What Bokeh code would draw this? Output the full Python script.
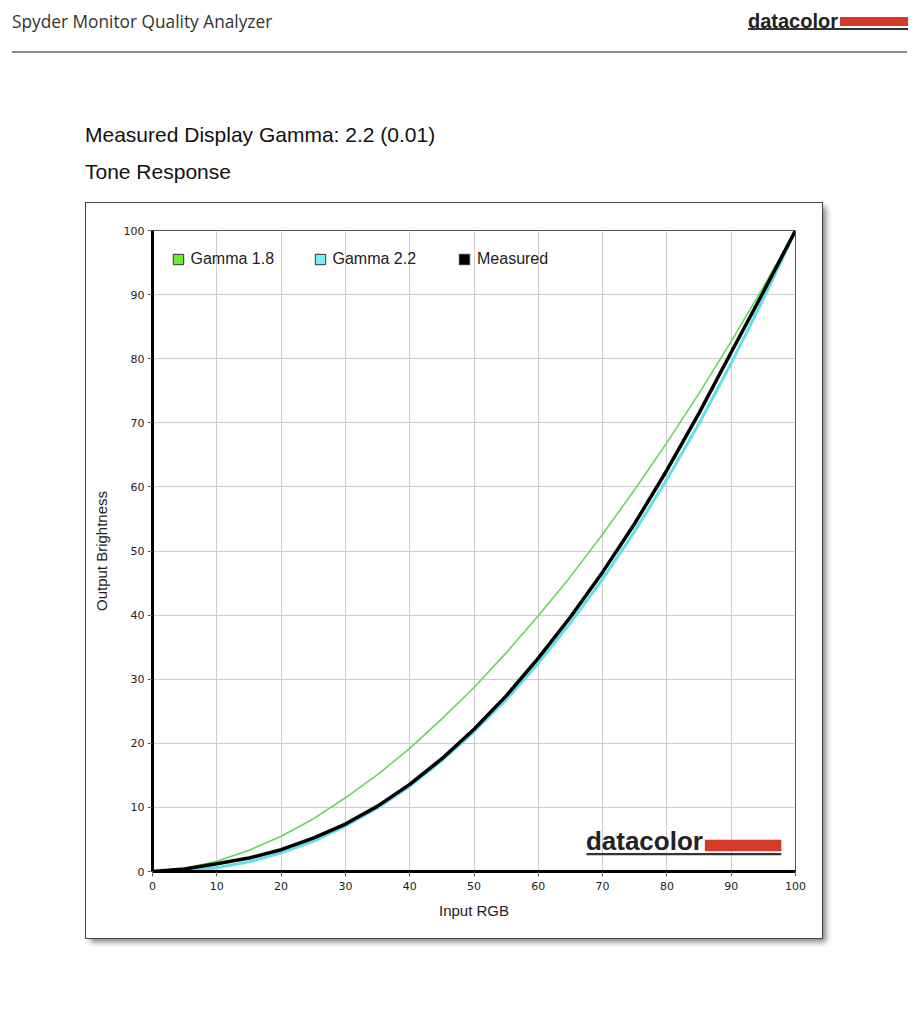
from bokeh.plotting import figure
from bokeh.models import (Div, Legend, LegendItem, Label, BoxAnnotation, ColumnDataSource,
                          Range1d, FixedTicker, Spacer)
from bokeh.layouts import column, row
from bokeh.embed import file_html
from bokeh.resources import INLINE
from bokeh.core.properties import value

# ---------------- data ----------------
input_rgb = [0, 5, 10, 15, 20, 25, 30, 35, 40, 45, 50, 55, 60, 65, 70, 75, 80, 85, 90, 95, 100]
gamma_18 = [0, 0.5, 1.6, 3.3, 5.5, 8.2, 11.5, 15.1, 19.2, 23.8, 28.7, 34.1, 39.9, 46.0, 52.6,
            59.6, 66.9, 74.6, 82.7, 91.2, 100]
gamma_22 = [0, 0.1, 0.6, 1.5, 2.9, 4.7, 7.1, 9.9, 13.3, 17.3, 21.8, 26.8, 32.5, 38.8, 45.6,
            53.1, 61.2, 69.9, 79.3, 89.3, 100]
measured = [0, 0.4, 1.2, 2.1, 3.4, 5.2, 7.4, 10.2, 13.6, 17.6, 22.2, 27.4, 33.3, 39.7, 46.7,
            54.3, 62.6, 71.5, 81.0, 90.4, 100]
ticks = [0, 10, 20, 30, 40, 50, 60, 70, 80, 90, 100]
series_names = ["Gamma 1.8", "Gamma 2.2", "Measured"]

page_title = "Spyder Monitor Quality Analyzer"
heading = "Measured Display Gamma: 2.2 (0.01)"
subheading = "Tone Response"
x_title = "Input RGB"
y_title = "Output Brightness"

# ---------------- styles ----------------
GREEN_LINE = "#66d65a"
GREEN_SWATCH = "#66ee33"
CYAN_LINE = "#5fe0ea"
CYAN_SWATCH = "#77eeee"
BLACK = "#000000"
SANS = "Liberation Sans"
TICK_FONT = "DejaVu Sans"

# ---------------- header (HTML) ----------------
header_html = f"""
<div style="position:relative;width:920px;height:203px;margin:0;padding:0;">
  <div style="position:absolute;left:12px;top:13px;font-family:'Open Sans';font-size:17.3px;line-height:1;color:#333;white-space:nowrap;">{page_title}</div>
  <div style="position:absolute;left:748px;top:11px;font-family:'Liberation Sans';font-weight:bold;font-size:20px;line-height:1;color:#222;white-space:nowrap;">datacolor</div>
  <div style="position:absolute;left:840px;top:17px;width:68px;height:9px;background:#d33a2c;"></div>
  <div style="position:absolute;left:748px;top:28px;width:160px;height:0;border-top:2px solid #333;"></div>
  <div style="position:absolute;left:12px;top:51px;width:895px;height:0;border-top:2px solid #8a8a8a;"></div>
  <div style="position:absolute;left:85px;top:124px;font-family:'Liberation Sans';font-size:21px;line-height:1;color:#111;white-space:nowrap;">{heading}</div>
  <div style="position:absolute;left:85px;top:161px;font-family:'Liberation Sans';font-size:21px;line-height:1;color:#111;white-space:nowrap;">{subheading}</div>
</div>
"""
header = Div(text=header_html, width=920, height=203, margin=(0, 0, 0, 0))

# ---------------- chart ----------------
p = figure(width=736, height=735, output_backend="svg", toolbar_location=None,
           x_range=Range1d(0, 100), y_range=Range1d(0, 100),
           min_border_left=66, min_border_right=27, min_border_top=27, min_border_bottom=67,
           background_fill_color="white", border_fill_color="white")
p.styles = {"outline": "1px solid #444", "box-shadow": "4px 4px 6px rgba(0,0,0,0.5)"}
p.outline_line_color = "#555555"
p.outline_line_width = 1

for ax in (p.xaxis[0], p.yaxis[0]):
    ax.ticker = FixedTicker(ticks=ticks)
    ax.axis_line_color = "black"
    ax.axis_line_width = 3
    ax.major_tick_line_color = "#666666"
    ax.major_tick_out = 5
    ax.major_tick_in = 0
    ax.minor_tick_line_color = None
    ax.major_label_text_font = TICK_FONT
    ax.major_label_text_font_size = "11px"
    ax.major_label_text_color = "#222222"
    ax.axis_label_text_font = SANS
    ax.axis_label_text_font_size = "15px"
    ax.axis_label_text_font_style = "normal"
    ax.axis_label_text_color = "#222222"

p.xaxis.axis_label = x_title
p.yaxis.axis_label = y_title
p.xaxis.major_label_standoff = 5
p.xaxis.axis_label_standoff = 9
p.yaxis.major_label_standoff = 3
p.yaxis.axis_label_standoff = 11

p.xgrid.ticker = FixedTicker(ticks=ticks)
p.ygrid.ticker = FixedTicker(ticks=ticks)
p.grid.grid_line_color = "#cccccc"
p.grid.grid_line_width = 1

src = ColumnDataSource(dict(x=input_rgb, g18=gamma_18, g22=gamma_22, m=measured))

# in-chart datacolor mark
p.add_layout(BoxAnnotation(left=85.9, right=97.8, bottom=3.17, top=4.95,
                           fill_color="#d33a2c", fill_alpha=1, line_color=None, level="underlay"))
p.add_layout(BoxAnnotation(left=67.5, right=97.8, bottom=2.55, top=2.9,
                           fill_color="#333333", fill_alpha=1, line_color=None, level="underlay"))
p.add_layout(Label(x=67.4, y=4.75, text="datacolor", text_font=SANS, text_font_style="bold",
                   text_font_size="26px", text_color="#222222", text_baseline="alphabetic",
                   level="underlay"))

p.line("x", "g18", source=src, line_color=GREEN_LINE, line_width=1.6, line_join="round")
p.line("x", "g22", source=src, line_color=CYAN_LINE, line_width=3, line_join="round")
p.line("x", "m", source=src, line_color=BLACK, line_width=3.5, line_join="round")

# legend swatches (square markers; renderers hidden, only their legend glyphs are shown)
swatch_colors = [GREEN_SWATCH, CYAN_SWATCH, BLACK]
legend_x = [12.5, 154.5, 299]
for name, col, lx in zip(series_names, swatch_colors, legend_x):
    sw = p.scatter(x=input_rgb[:1], y=measured[:1], marker="square", size=10, fill_color=col,
                   line_color="#333333", line_width=1, visible=False)
    leg = Legend(items=[LegendItem(label=value(name), renderers=[sw])], location=(lx, 599),
                 orientation="horizontal", padding=0, margin=0, spacing=0,
                 glyph_width=26, glyph_height=26, label_height=26, label_width=10,
                 label_standoff=0, label_text_font=SANS, label_text_font_size="16px",
                 label_text_color="#222222", border_line_color=None,
                 background_fill_alpha=0, inactive_fill_alpha=0)
    p.add_layout(leg)

layout = column(header, row(Spacer(width=86, height=735, margin=(0, 0, 0, 0)), p))

open("out.html", "w").write(file_html(layout, INLINE))
